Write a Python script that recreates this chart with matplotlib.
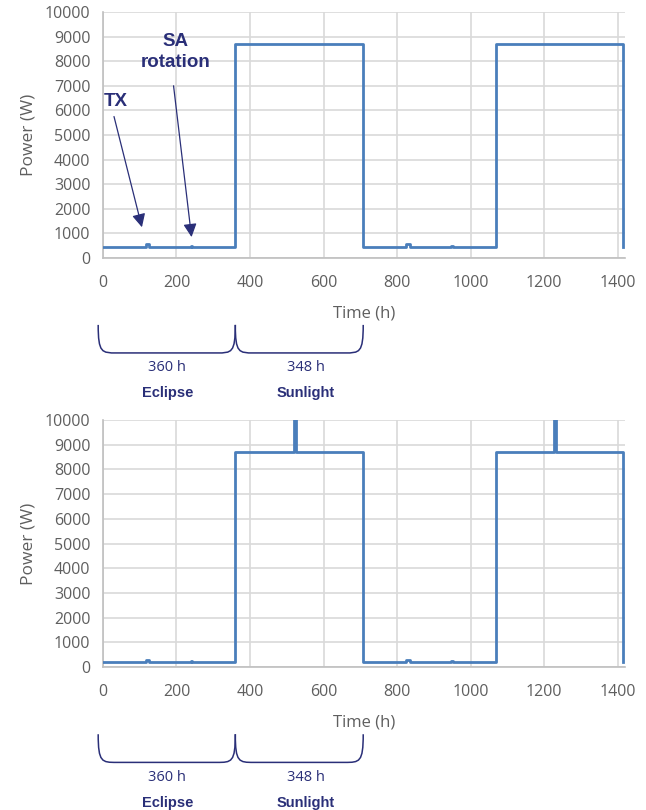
import matplotlib
matplotlib.use("Agg")
import matplotlib.pyplot as plt
from matplotlib.path import Path
from matplotlib.patches import PathPatch
import matplotlib.transforms as mtransforms

# step breakpoints (h) and power level that starts at each breakpoint (W)
time_top = [0, 116, 126, 240, 243, 360, 708, 824, 834, 948, 951, 1068, 1416]
power_top = [450, 550, 450, 490, 450, 8700, 450, 550, 450, 490, 450, 8700, 450]

time_bot = [0, 116, 126, 240, 243, 360, 519, 525, 708, 824, 834, 948, 951, 1068, 1227, 1233, 1416]
power_bot = [200, 280, 200, 230, 200, 8700, 12000, 8700, 200, 280, 200, 230, 200, 8700, 12000, 8700, 200]

x_ticks = [0, 200, 400, 600, 800, 1000, 1200, 1400]
y_ticks = [0, 1000, 2000, 3000, 4000, 5000, 6000, 7000, 8000, 9000, 10000]

eclipse_h = 360
sunlight_h = 348

LINE = "#4A7EBB"
NAVY = "#2A2F78"
GREY = "#5F5F5F"

fig = plt.figure(figsize=(6.46, 8.10), dpi=100)
plt.rcParams['font.family'] = ['Open Sans', 'DejaVu Sans']


def brace(ax, x0, x1, y_top, y_bot, r):
    trans = mtransforms.blended_transform_factory(ax.transData, ax.transAxes)
    verts = [(x0, y_top), (x0, y_bot), (x0 + r * 0.2, y_bot), (x0 + r, y_bot),
             (x1 - r, y_bot),
             (x1 - r * 0.2, y_bot), (x1, y_bot), (x1, y_top)]
    codes = [Path.MOVETO, Path.CURVE4, Path.CURVE4, Path.CURVE4,
             Path.LINETO,
             Path.CURVE4, Path.CURVE4, Path.CURVE4]
    p = PathPatch(Path(verts, codes), transform=trans, fill=False,
                  edgecolor=NAVY, lw=1.1, clip_on=False)
    ax.add_patch(p)


def setup(ax, t, p):
    ax.plot(t, p, drawstyle='steps-post', color=LINE, lw=2.0, zorder=3)
    ax.set_xlim(0, 1420)
    ax.set_ylim(0, 10000)
    ax.set_xticks(x_ticks)
    ax.set_yticks(y_ticks)
    ax.grid(True, color="#D9D9D9", lw=1.2)
    ax.set_axisbelow(True)
    for s in ['top', 'right']:
        ax.spines[s].set_visible(False)
    for s in ['left', 'bottom']:
        ax.spines[s].set_color("#BFBFBF")
        ax.spines[s].set_linewidth(1.2)
    ax.tick_params(axis='x', length=0, pad=12, labelsize=11.5, labelcolor=GREY)
    ax.tick_params(axis='y', length=0, pad=9, labelsize=11.5, labelcolor=GREY)
    ax.set_xlabel("Time (h)", fontsize=12, color=GREY, labelpad=11)
    ax.set_ylabel("Power (W)", fontsize=12.5, color=GREY, labelpad=6)

    brace(ax, -13, eclipse_h, -0.272, -0.386, 50)
    brace(ax, eclipse_h, eclipse_h + sunlight_h, -0.272, -0.386, 50)
    ax.text(175, -0.447, "%d h" % eclipse_h, transform=ax.get_xaxis_transform(),
            ha='center', va='center', fontsize=10.5, color=NAVY)
    ax.text(551, -0.447, "%d h" % sunlight_h, transform=ax.get_xaxis_transform(),
            ha='center', va='center', fontsize=10.5, color=NAVY)
    ax.text(175, -0.549, "Eclipse", transform=ax.get_xaxis_transform(),
            ha='center', va='center', fontsize=10.5, color=NAVY,
            family='Liberation Sans', weight='bold')
    ax.text(551, -0.549, "Sunlight", transform=ax.get_xaxis_transform(),
            ha='center', va='center', fontsize=10.5, color=NAVY,
            family='Liberation Sans', weight='bold')


ax1 = fig.add_axes([0.1594, 0.6815, 0.808, 0.3037])
setup(ax1, time_top, power_top)

ax2 = fig.add_axes([0.1594, 0.1765, 0.808, 0.3050])
setup(ax2, time_bot, power_bot)

# annotations on the top chart
arrow = dict(arrowstyle='-|>', color=NAVY, lw=0.9, mutation_scale=20,
             shrinkA=0, shrinkB=0)
ax1.text(34, 6380, "TX", ha='center', va='center', fontsize=13.5,
         color=NAVY, family='Liberation Sans', weight='bold')
ax1.annotate("", xy=(106, 1250), xytext=(30, 5750), arrowprops=arrow)
ax1.text(197, 8370, "SA\nrotation", ha='center', va='center', fontsize=13.5,
         color=NAVY, family='Liberation Sans', weight='bold', linespacing=1.3)
ax1.annotate("", xy=(241, 850), xytext=(192, 7000), arrowprops=arrow)

fig.savefig("out.png", dpi=100)
